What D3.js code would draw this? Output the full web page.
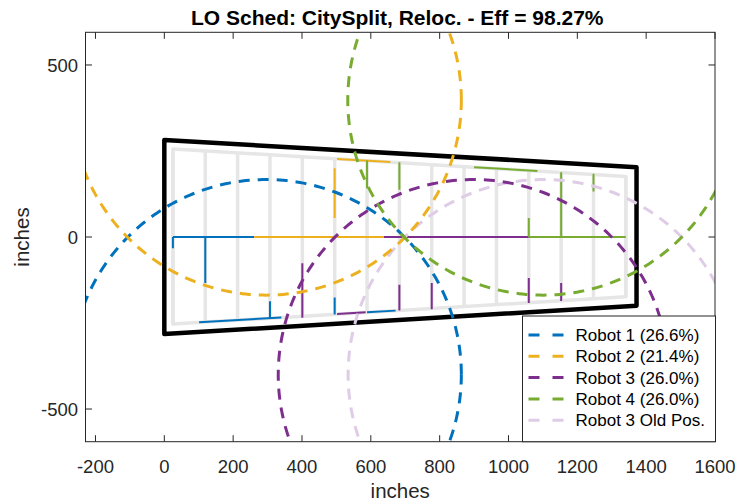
<!DOCTYPE html>
<html>
<head>
<meta charset="utf-8">
<script src="https://cdn.jsdelivr.net/npm/d3@7"></script>
<style>
  body { margin: 0; background: #fff; }
  svg { display: block; font-family: "Liberation Sans", Arial, Helvetica, sans-serif; }
</style>
</head>
<body>
<svg id="chart" width="738" height="504"></svg>
<script>
// ---- axes ----
const xTicks = [-200, 0, 200, 400, 600, 800, 1000, 1200, 1400, 1600];
const yTicks = [-500, 0, 500];
const xDomain = [-229, 1600];
const yDomain = [-595, 595];

// ---- city outline and lane grid (inches) ----
const cityOutline = [[0, 282], [1372, 203], [1372, -200], [0, -282]];
const laneX = [25, 119, 213, 307, 401, 495, 589, 683, 777, 871, 965, 1059, 1153, 1247, 1341];
const laneTop = [[25, 256], [1341, 176]];
const laneBottom = [[25, -253], [1341, -174]];

// ---- robots ----
const robotNames = ["Robot 1 (26.6%)", "Robot 2 (21.4%)", "Robot 3 (26.0%)", "Robot 4 (26.0%)", "Robot 3 Old Pos."];
const robotColors = ["#0072BD", "#EDB120", "#7E2F8E", "#77AC30", "#DFCCE6"];
const reachCenters = [[296, -400], [296, 398], [898, -400], [1100, 398], [1101, -400]];
const reachRadius = 567;

// assigned lane segments [x1, y1, x2, y2]
const robot1Segments = [
  [25, 0, 261, 0], [25, 0, 25, -33], [119, 0, 119, -134],
  [101, -248, 340, -234], [307, -187, 307, -236],
  [495, -176, 495, -225], [589, -219, 672, -214]
];
const robot2Segments = [
  [261, 0, 638, 0], [495, 55, 495, 200], [502, 227, 657, 218]
];
const robot3Segments = [
  [638, 0, 1059, 0], [401, -76, 401, -235], [502, -224, 585, -219],
  [683, -139, 683, -214], [777, -134, 777, -210],
  [1059, -119, 1059, -192], [1153, -134, 1153, -186]
];
const robot4Segments = [
  [1059, 0, 1341, 0], [589, 222, 589, 142], [683, 217, 683, 137],
  [900, 203, 1084, 192], [1059, 55, 1059, 0], [1153, 188, 1153, 0],
  [1247, 184, 1247, 132]
];
const robotSegments = [robot1Segments, robot2Segments, robot3Segments, robot4Segments];

const titleText = "LO Sched: CitySplit, Reloc. - Eff = 98.27%";
const xLabel = "inches";
const yLabel = "inches";

// ---- layout ----
const plot = { left: 85.5, right: 715, top: 32.3, bottom: 441.7 };
const axisColor = "#262626";

const svg = d3.select("#chart");
const x = d3.scaleLinear().domain(xDomain).range([plot.left, plot.right]);
const y = d3.scaleLinear().domain(yDomain).range([plot.bottom, plot.top]);

svg.append("defs").append("clipPath").attr("id", "plotClip")
  .append("rect")
  .attr("x", plot.left).attr("y", plot.top)
  .attr("width", plot.right - plot.left).attr("height", plot.bottom - plot.top);

const g = svg.append("g").attr("clip-path", "url(#plotClip)");

// lane grid
const lerpY = (edge, xv) => {
  const [[x0, y0], [x1, y1]] = edge;
  return y0 + (y1 - y0) * (xv - x0) / (x1 - x0);
};
const gridColor = "#e6e6e6";
g.append("path")
  .attr("d", d3.line()([
    [x(laneTop[0][0]), y(laneTop[0][1])], [x(laneTop[1][0]), y(laneTop[1][1])],
    [x(laneBottom[1][0]), y(laneBottom[1][1])], [x(laneBottom[0][0]), y(laneBottom[0][1])]
  ]) + "Z")
  .attr("fill", "none").attr("stroke", gridColor).attr("stroke-width", 3.5)
  .attr("stroke-linejoin", "round");
g.selectAll(".lane").data(laneX).join("line")
  .attr("x1", d => x(d)).attr("x2", d => x(d))
  .attr("y1", d => y(lerpY(laneTop, d))).attr("y2", d => y(lerpY(laneBottom, d)))
  .attr("stroke", gridColor).attr("stroke-width", 3.5);

// city outline
g.append("path")
  .attr("d", d3.line().x(d => x(d[0])).y(d => y(d[1]))(cityOutline) + "Z")
  .attr("fill", "none").attr("stroke", "#000").attr("stroke-width", 4.5)
  .attr("stroke-linejoin", "round");

// robot lane assignments
robotSegments.forEach((segs, i) => {
  g.append("g").selectAll("line").data(segs).join("line")
    .attr("x1", d => x(d[0])).attr("y1", d => y(d[1]))
    .attr("x2", d => x(d[2])).attr("y2", d => y(d[3]))
    .attr("stroke", robotColors[i]).attr("stroke-width", 2)
    .attr("stroke-linecap", "butt");
});

// reach circles
const dash = "11,8";
const angles = d3.range(0, 361, 1).map(a => a * Math.PI / 180);
const circleLine = d3.line().x(d => x(d[0])).y(d => y(d[1]));
const drawOrder = [4, 0, 1, 2, 3];
drawOrder.forEach(i => {
  const [cx, cy] = reachCenters[i];
  const pts = angles.map(a => [cx + reachRadius * Math.cos(a), cy + reachRadius * Math.sin(a)]);
  g.append("path")
    .attr("d", circleLine(pts))
    .attr("fill", "none").attr("stroke", robotColors[i]).attr("stroke-width", 3)
    .attr("stroke-dasharray", dash);
});

// ---- axes box and ticks ----
const axes = svg.append("g").attr("stroke", axisColor).attr("stroke-width", 1);
axes.append("rect")
  .attr("x", plot.left).attr("y", plot.top)
  .attr("width", plot.right - plot.left).attr("height", plot.bottom - plot.top)
  .attr("fill", "none");
const tickLen = 6.5;
xTicks.forEach(t => {
  const px = x(t);
  axes.append("line").attr("x1", px).attr("x2", px).attr("y1", plot.bottom).attr("y2", plot.bottom - tickLen);
  axes.append("line").attr("x1", px).attr("x2", px).attr("y1", plot.top).attr("y2", plot.top + tickLen);
});
yTicks.forEach(t => {
  const py = y(t);
  axes.append("line").attr("x1", plot.left).attr("x2", plot.left + tickLen).attr("y1", py).attr("y2", py);
  axes.append("line").attr("x1", plot.right).attr("x2", plot.right - tickLen).attr("y1", py).attr("y2", py);
});

const tickFont = 18.5;
svg.append("g").selectAll("text").data(xTicks).join("text")
  .attr("x", d => x(d)).attr("y", 473)
  .attr("text-anchor", "middle").attr("font-size", tickFont).attr("fill", axisColor)
  .text(d => d);
svg.append("g").selectAll("text").data(yTicks).join("text")
  .attr("x", 78).attr("y", d => y(d) + 6.6)
  .attr("text-anchor", "end").attr("font-size", tickFont).attr("fill", axisColor)
  .text(d => d);

svg.append("text")
  .attr("x", (plot.left + plot.right) / 2).attr("y", 497.5)
  .attr("text-anchor", "middle").attr("font-size", 20.5).attr("fill", axisColor)
  .text(xLabel);
svg.append("text")
  .attr("transform", `translate(28.5,${(plot.top + plot.bottom) / 2}) rotate(-90)`)
  .attr("text-anchor", "middle").attr("font-size", 20.5).attr("fill", axisColor)
  .text(yLabel);

svg.append("text")
  .attr("x", (plot.left + plot.right) / 2 - 3).attr("y", 24.5)
  .attr("text-anchor", "middle").attr("font-size", 21).attr("font-weight", "bold")
  .attr("fill", "#000")
  .text(titleText);

// ---- legend ----
const legend = { left: 522.5, top: 316, right: 715.5, bottom: 441.7, rowY0: 335, rowStep: 21.3 };
const lg = svg.append("g");
lg.append("rect")
  .attr("x", legend.left).attr("y", legend.top)
  .attr("width", legend.right - legend.left).attr("height", legend.bottom - legend.top)
  .attr("fill", "#fff").attr("stroke", axisColor).attr("stroke-width", 1);
robotNames.forEach((name, i) => {
  const ry = legend.rowY0 + i * legend.rowStep;
  lg.append("line")
    .attr("x1", legend.left + 6).attr("x2", legend.left + 43)
    .attr("y1", ry).attr("y2", ry)
    .attr("stroke", robotColors[i]).attr("stroke-width", 3)
    .attr("stroke-dasharray", "11,13");
  lg.append("text")
    .attr("x", legend.left + 53).attr("y", ry + 6)
    .attr("font-size", 17).attr("fill", "#000")
    .text(name);
});
</script>
</body>
</html>
